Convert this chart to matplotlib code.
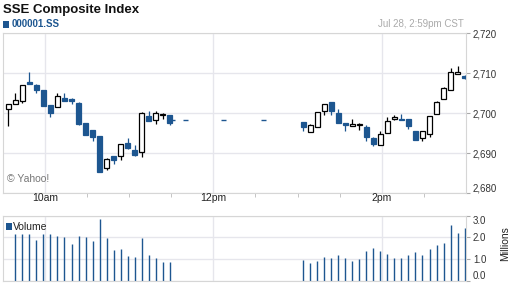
import matplotlib
matplotlib.use('Agg')
import matplotlib.pyplot as plt
from matplotlib.patches import Rectangle
import numpy as np
import pandas as pd

plt.rcParams['font.family'] = ['Liberation Sans', 'DejaVu Sans']

# 5-minute candles, morning session (bar times 9:34 ... 11:29)
am_open = [2701.0, 2702.25, 2703.0, 2707.8, 2707.15, 2705.8, 2702.1, 2701.5, 2703.8, 2703.55, 2702.6, 2697.6,
           2695.8, 2694.3, 2686.4, 2689.25, 2689.25, 2692.5, 2690.75, 2690.25, 2699.25, 2698.25, 2699.6, 2699.5]
am_high = [2702.25, 2705.1, 2707.1, 2710.3, 2707.3, 2705.8, 2702.1, 2705.1, 2705.1, 2703.8, 2702.8, 2697.6,
           2695.8, 2694.3, 2688.75, 2689.25, 2692.25, 2693.8, 2692.1, 2700.25, 2700.6, 2700.5, 2700.1, 2699.5]
am_low = [2696.9, 2702.25, 2702.65, 2707.4, 2705.15, 2701.9, 2699.15, 2701.5, 2703.15, 2702.4, 2697.15, 2694.65,
          2693.15, 2685.3, 2685.9, 2687.4, 2688.4, 2691.0, 2689.4, 2689.15, 2698.15, 2697.25, 2698.5, 2697.15]
am_close = [2702.25, 2703.25, 2707.1, 2707.4, 2705.9, 2701.9, 2700.15, 2704.25, 2703.15, 2703.15, 2697.4, 2694.65,
            2694.0, 2685.3, 2688.5, 2688.4, 2692.25, 2691.4, 2689.65, 2700.0, 2698.15, 2700.0, 2699.9, 2697.5]
am_volume = [np.nan, 2.14, 2.14, 2.14, 1.88, 2.14, 2.14, 2.07, 2.02, 1.70, 2.07, 2.02,
             1.84, 2.85, 1.98, 1.42, 1.47, 1.15, 1.10, 1.98, 1.19, 1.06, 0.87, 0.87]

# afternoon session (bar times 13:04 ... 14:59)
pm_open = [2697.8, 2695.25, 2696.5, 2700.6, 2702.8, 2700.15, 2697.6, 2696.8, 2697.15, 2696.6, 2693.9, 2692.1,
           2695.0, 2698.65, 2698.65, 2698.5, 2695.5, 2693.75, 2694.75, 2699.9, 2703.6, 2705.75, 2709.75, 2709.3]
pm_high = [2697.8, 2697.4, 2700.25, 2702.25, 2702.8, 2701.0, 2697.6, 2698.5, 2697.65, 2697.0, 2694.15, 2695.5,
           2699.1, 2699.6, 2699.9, 2698.5, 2695.5, 2695.5, 2699.25, 2703.1, 2706.5, 2711.3, 2711.75, 2709.6]
pm_low = [2695.5, 2695.25, 2696.5, 2699.65, 2699.65, 2697.5, 2695.5, 2696.8, 2695.8, 2693.15, 2691.75, 2692.1,
          2695.0, 2698.25, 2698.25, 2696.1, 2693.25, 2693.0, 2694.15, 2699.9, 2703.6, 2705.75, 2709.75, 2708.6]
pm_close = [2696.5, 2697.1, 2700.25, 2702.25, 2700.5, 2697.5, 2697.0, 2697.4, 2697.3, 2694.0, 2692.25, 2694.75,
            2698.0, 2699.1, 2698.25, 2696.75, 2693.25, 2695.5, 2699.25, 2702.75, 2706.25, 2710.25, 2710.25, 2708.8]
pm_volume = [0.96, 0.83, 0.92, 1.10, 1.06, 1.19, 1.06, 0.92, 1.01, 1.38, 1.52, 1.38,
             1.24, 1.06, 1.06, 1.19, 1.33, 1.19, 1.47, 1.65, 1.75, 2.57, 2.21, 2.43]

# flat ticks during the lunch break
lunch_times = ['11:31', '11:40', '12:07', '12:36']
lunch_price = 2698.2


def minutes(t):
    h, m = t.split(':')
    return int(h) * 60 + int(m)


am_times = [minutes(t.strftime('%H:%M')) for t in pd.date_range('09:34', periods=len(am_open), freq='5min')]
pm_times = [minutes(t.strftime('%H:%M')) for t in pd.date_range('13:04', periods=len(pm_open), freq='5min')]

df = pd.DataFrame({
    't': am_times + pm_times,
    'open': am_open + pm_open,
    'high': am_high + pm_high,
    'low': am_low + pm_low,
    'close': am_close + pm_close,
    'volume': am_volume + pm_volume,
})

blue = '#1d5690'
grid = '#e6e6ec'
spine = '#d6d6d6'
width = 3.4

fig = plt.figure(figsize=(5.12, 2.88), dpi=100)
ax = fig.add_axes([0.0053, 0.3288, 0.9049, 0.5556])
axv = fig.add_axes([0.0053, 0.0243, 0.9049, 0.2267])

for a in (ax, axv):
    a.set_xlim(570, 900)
    a.set_xticks([600, 720, 840])
    a.set_xticks([630, 660, 690, 750, 780, 810, 870], minor=True)
    a.grid(True, axis='both', color=grid, lw=1.0)
    a.set_axisbelow(True)
    for s in a.spines.values():
        s.set_color(spine)
        s.set_linewidth(0.8)
    a.yaxis.tick_right()
    a.tick_params(axis='y', length=3, color='#aaaaaa', labelsize=7, labelcolor='#333333', pad=2)
    a.tick_params(axis='x', which='both', length=3, color='#bbbbbb', labelsize=7.5, labelcolor='#222222')

# candles
up = df['close'] >= df['open']
ax.vlines(df.t[up], df.low[up], df.high[up], color='black', lw=0.9, zorder=2)
ax.vlines(df.t[~up], df.low[~up], df.high[~up], color=blue, lw=0.9, zorder=2)
body = (df.close - df.open).abs().clip(lower=0.15)
base = df[['open', 'close']].min(axis=1)
ax.bar(df.t[up], body[up], bottom=base[up], width=width, facecolor='white', edgecolor='black', lw=0.9, zorder=3)
ax.bar(df.t[~up], body[~up], bottom=base[~up], width=width, facecolor=blue, edgecolor=blue, lw=0.9, zorder=3)
lt = [minutes(t) for t in lunch_times]
ax.hlines([lunch_price] * len(lt), np.array(lt) - width / 2, np.array(lt) + width / 2, color=blue, lw=1.0, zorder=3)

ax.set_ylim(2680, 2720)
ax.set_yticks([2680, 2690, 2700, 2710, 2720])
ax.set_yticklabels(['2,680', '2,690', '2,700', '2,710', '2,720'])
ax.yaxis.get_ticklabels()[0].set_va('bottom')
ax.set_xticklabels([])
ax.tick_params(axis='x', which='major', length=0)
ax.text(0.009, 0.07, '© Yahoo!', transform=ax.transAxes, fontsize=7.5, color='#777777')

# volume
axv.vlines(df.t, 0, df.volume, color=blue, lw=1.0)
axv.set_ylim(0, 3.0)
axv.set_yticks([0, 1, 2, 3])
axv.set_yticklabels(['0.0', '1.0', '2.0', '3.0'])
axv.yaxis.get_ticklabels()[0].set_va('bottom')
axv.yaxis.get_ticklabels()[-1].set_va('top')
axv.set_xticklabels(['10am', '12pm', '2pm'])
axv.xaxis.tick_top()
axv.tick_params(axis='x', which='both', length=0, pad=9)
fig.text(0.987, 0.153, 'Millions', rotation=90, fontsize=7.5, color='#222222', ha='center', va='center')
fig.patches.append(Rectangle((0.0117, 0.2014), 0.0117, 0.0243, transform=fig.transFigure,
                             facecolor=blue, edgecolor='none'))
fig.text(0.026, 0.211, 'Volume', fontsize=7.5, color='#222222', va='center')

# header
fig.text(0.006, 0.967, 'SSE Composite Index', fontsize=9.5, fontweight='bold', color='#111111', va='center')
fig.patches.append(Rectangle((0.0053, 0.904), 0.0129, 0.0243, transform=fig.transFigure,
                             facecolor=blue, edgecolor='none'))
fig.text(0.0234, 0.915, '000001.SS', fontsize=7, fontweight='bold', color=blue, va='center')
fig.text(0.905, 0.915, 'Jul 28, 2:59pm CST', fontsize=7, color='#aaaaaa', va='center', ha='right')

fig.savefig('out.png', dpi=100)
